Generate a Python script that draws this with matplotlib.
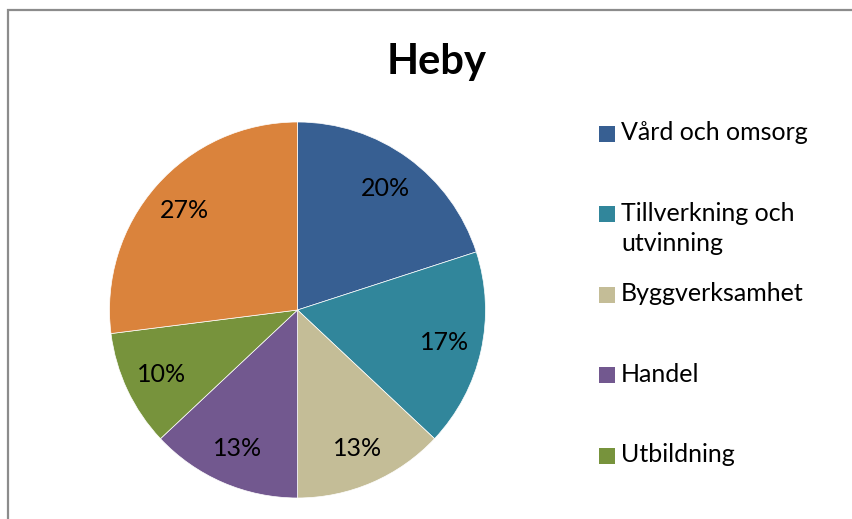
import numpy as np
import matplotlib
matplotlib.use("Agg")
import matplotlib.pyplot as plt
from matplotlib.patches import Rectangle

plt.rcParams['font.family'] = ['Lato', 'DejaVu Sans']

# data
title = 'Heby'
sectors = ['Vård och omsorg', 'Tillverkning och\nutvinning', 'Byggverksamhet',
           'Handel', 'Utbildning', 'Övrigt']
shares = [20, 17, 13, 13, 10, 27]
colours = ['#375F92', '#31869B', '#C4BD97', '#72588F', '#77933C', '#DA833C']

W, H = 853, 519
fig = plt.figure(figsize=(W / 100, H / 100), dpi=100)

# grey frame of the chart area (bottom and right are cut off in the original)
fig.patches.append(Rectangle((8 / W, -0.2), 1.2, 1.2 - 10 / H,
                             transform=fig.transFigure, fill=False,
                             edgecolor='#8c8c8c', linewidth=1.6))

# pie: centre (297.5, 310) px, radius 188 px
cx, cy, r = 297.5, 310, 188
ax = fig.add_axes([(cx - r) / W, (H - cy - r) / H, 2 * r / W, 2 * r / H])
wedges, texts, autotexts = ax.pie(
    shares, colors=colours, startangle=90, counterclock=False,
    autopct='%1.0f%%', pctdistance=0.8,
    wedgeprops=dict(edgecolor='white', linewidth=0.5),
    textprops=dict(fontsize=18, color='black'))
ax.set_xlim(-1, 1)
ax.set_ylim(-1, 1)

fig.text(437 / W, 1 - 62 / H, title, fontsize=30, fontweight='bold',
         ha='center', va='center')

# legend, drawn by hand so every slot has the same height like in Excel;
# the last slot falls below the cropped picture, as in the original
x_box, y0, step, box = 599, 134, 80.4, 16
for i, (name, col) in enumerate(zip(sectors, colours)):
    yc = y0 + i * step
    if yc + box > H:
        break
    fig.patches.append(Rectangle((x_box / W, 1 - (yc + box / 2) / H), box / W, box / H,
                                 transform=fig.transFigure, facecolor=col,
                                 edgecolor='none'))
    fig.text((x_box + box + 6) / W, 1 - (yc - 12.5) / H, name, fontsize=18,
             ha='left', va='top', linespacing=1.35)

fig.savefig('out.png', dpi=100)
